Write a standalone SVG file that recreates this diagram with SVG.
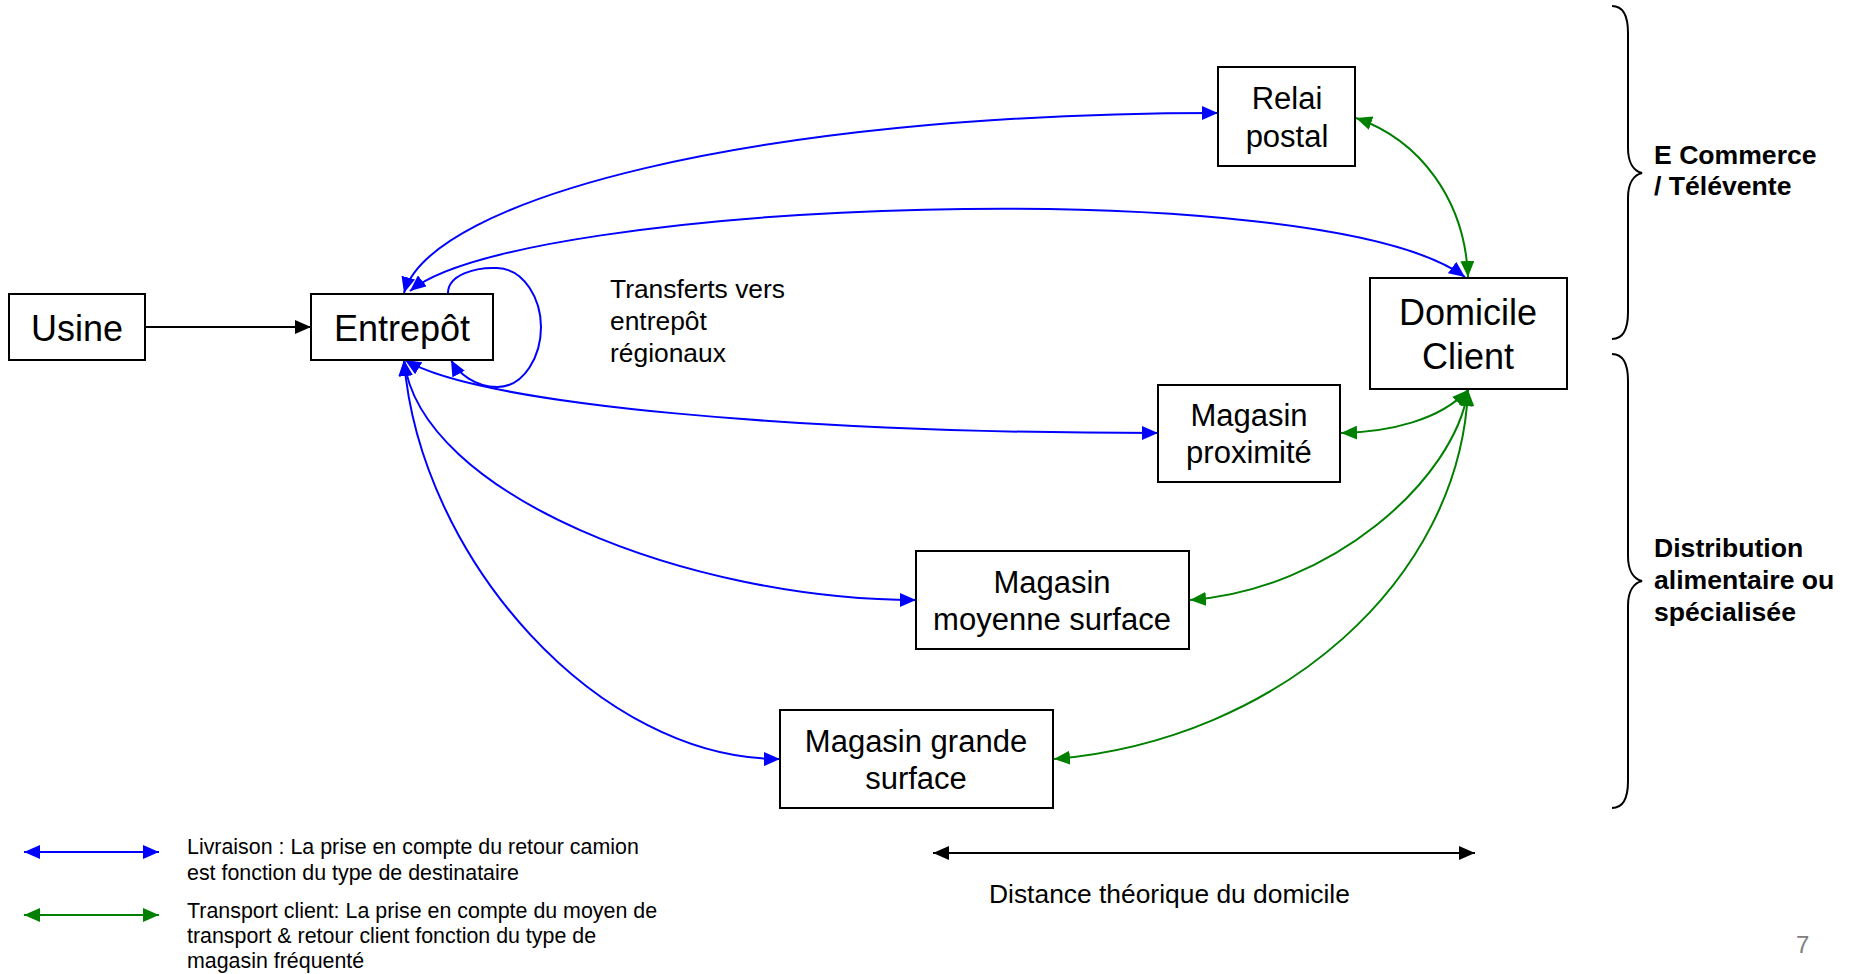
<svg xmlns="http://www.w3.org/2000/svg" width="1849" height="974" viewBox="0 0 1849 974">
<style>
.box{fill:#ffffff;stroke:#000000;stroke-width:2}
.t{font-family:"Liberation Sans",Arial,sans-serif;fill:#000000}
.c{text-anchor:middle}
.big{font-size:36px}
.mid{font-size:31px}
.note{font-size:26.4px}
.leg{font-size:21.4px}
.bold{font-size:26.6px;font-weight:bold}
.blue{fill:none;stroke:#0000FF;stroke-width:2}
.green{fill:none;stroke:#008000;stroke-width:2}
.black{fill:none;stroke:#000000;stroke-width:2}
.brace{fill:none;stroke:#000000;stroke-width:2}
</style>
<defs>
<marker id="hb" viewBox="0 0 16 14" refX="16" refY="7" markerWidth="16" markerHeight="14" markerUnits="userSpaceOnUse" orient="auto-start-reverse"><path d="M0,0 L16,7 L0,14 z" fill="#0000FF"/></marker>
<marker id="hg" viewBox="0 0 16 14" refX="16" refY="7" markerWidth="16" markerHeight="14" markerUnits="userSpaceOnUse" orient="auto-start-reverse"><path d="M0,0 L16,7 L0,14 z" fill="#008000"/></marker>
<marker id="hk" viewBox="0 0 16 14" refX="16" refY="7" markerWidth="16" markerHeight="14" markerUnits="userSpaceOnUse" orient="auto-start-reverse"><path d="M0,0 L16,7 L0,14 z" fill="#000000"/></marker>
</defs>
<rect width="1849" height="974" fill="#ffffff"/>

<g id="connectors">
<path class="black" d="M145 327 L311 327" marker-end="url(#hk)"/>
<path class="blue" d="M404 293 C430 200 750 113 1218 113" marker-start="url(#hb)" marker-end="url(#hb)"/>
<path class="blue" d="M410 291 C520 200 1320 170 1465 277" marker-start="url(#hb)" marker-end="url(#hb)"/>
<path class="blue" d="M448 293 C448 275 475 267 497 268 C525 269 541 300 541 327 C541 355 525 387 497 387 C475 387 458 373 451 360" marker-end="url(#hb)"/>
<path class="blue" d="M405 360 C480 405 800 433 1158 433" marker-start="url(#hb)" marker-end="url(#hb)"/>
<path class="blue" d="M404 360 C420 495 690 600 916 600" marker-start="url(#hb)" marker-end="url(#hb)"/>
<path class="blue" d="M404 360 C420 560 600 760 780 759" marker-start="url(#hb)" marker-end="url(#hb)"/>
<path class="green" d="M1356 118 C1420 140 1465 200 1468 277" marker-start="url(#hg)" marker-end="url(#hg)"/>
<path class="green" d="M1341 433 C1390 432 1440 420 1468 390" marker-start="url(#hg)" marker-end="url(#hg)"/>
<path class="green" d="M1190 600 C1330 590 1455 480 1468 390" marker-start="url(#hg)" marker-end="url(#hg)"/>
<path class="green" d="M1054 759 C1280 740 1460 580 1468 390" marker-start="url(#hg)" marker-end="url(#hg)"/>
</g>

<g id="usine">
<rect class="box" x="9" y="294" width="136" height="66"/>
<text class="t c big" x="77" y="341">Usine</text>
</g>
<g id="entrepot">
<rect class="box" x="311" y="294" width="182" height="66"/>
<text class="t c big" x="402" y="341">Entrepôt</text>
</g>
<g id="relai">
<rect class="box" x="1218" y="67" width="137" height="99"/>
<text class="t c mid" x="1287" y="109">Relai</text>
<text class="t c mid" x="1287" y="147">postal</text>
</g>
<g id="domicile">
<rect class="box" x="1370" y="278" width="197" height="111"/>
<text class="t c big" x="1468" y="325">Domicile</text>
<text class="t c big" x="1468" y="369">Client</text>
</g>
<g id="proximite">
<rect class="box" x="1158" y="385" width="182" height="97"/>
<text class="t c mid" x="1249" y="426">Magasin</text>
<text class="t c mid" x="1249" y="463">proximité</text>
</g>
<g id="moyenne">
<rect class="box" x="916" y="551" width="273" height="98"/>
<text class="t c mid" x="1052" y="593">Magasin</text>
<text class="t c mid" x="1052" y="630">moyenne surface</text>
</g>
<g id="grande">
<rect class="box" x="780" y="710" width="273" height="98"/>
<text class="t c mid" x="916" y="752">Magasin grande</text>
<text class="t c mid" x="916" y="789">surface</text>
</g>

<g id="transferts">
<text class="t note" x="610" y="298">Transferts vers</text>
<text class="t note" x="610" y="330">entrepôt</text>
<text class="t note" x="610" y="362">régionaux</text>
</g>

<g id="brace-ecommerce">
<path class="brace" d="M1612 6 C1622 6 1628 14 1628 33 L1628 148 C1628 163 1634 171 1642 173 C1634 175 1628 183 1628 198 L1628 312 C1628 331 1622 339 1612 339"/>
<text class="t bold" x="1654" y="164">E Commerce</text>
<text class="t bold" x="1654" y="195">/ Télévente</text>
</g>
<g id="brace-distribution">
<path class="brace" d="M1612 354 C1622 354 1628 362 1628 381 L1628 556 C1628 571 1634 579 1642 581 C1634 583 1628 591 1628 606 L1628 781 C1628 800 1622 808 1612 808"/>
<text class="t bold" x="1654" y="557">Distribution</text>
<text class="t bold" x="1654" y="589">alimentaire ou</text>
<text class="t bold" x="1654" y="621">spécialisée</text>
</g>

<g id="legend">
<path class="blue" d="M24 852 L159 852" marker-start="url(#hb)" marker-end="url(#hb)"/>
<text class="t leg" x="187" y="854">Livraison : La prise en compte du retour camion</text>
<text class="t leg" x="187" y="880">est fonction du type de destinataire</text>
<path class="green" d="M24 915 L159 915" marker-start="url(#hg)" marker-end="url(#hg)"/>
<text class="t leg" x="187" y="918">Transport client: La prise en compte du moyen de</text>
<text class="t leg" x="187" y="943">transport &amp; retour client fonction du type de</text>
<text class="t leg" x="187" y="968">magasin fréquenté</text>
</g>

<g id="distance">
<path class="black" d="M933 853 L1475 853" marker-start="url(#hk)" marker-end="url(#hk)"/>
<text class="t note" x="989" y="903">Distance théorique du domicile</text>
</g>

<text class="t" x="1796" y="953" font-size="24" style="fill:#808080">7</text>
</svg>
